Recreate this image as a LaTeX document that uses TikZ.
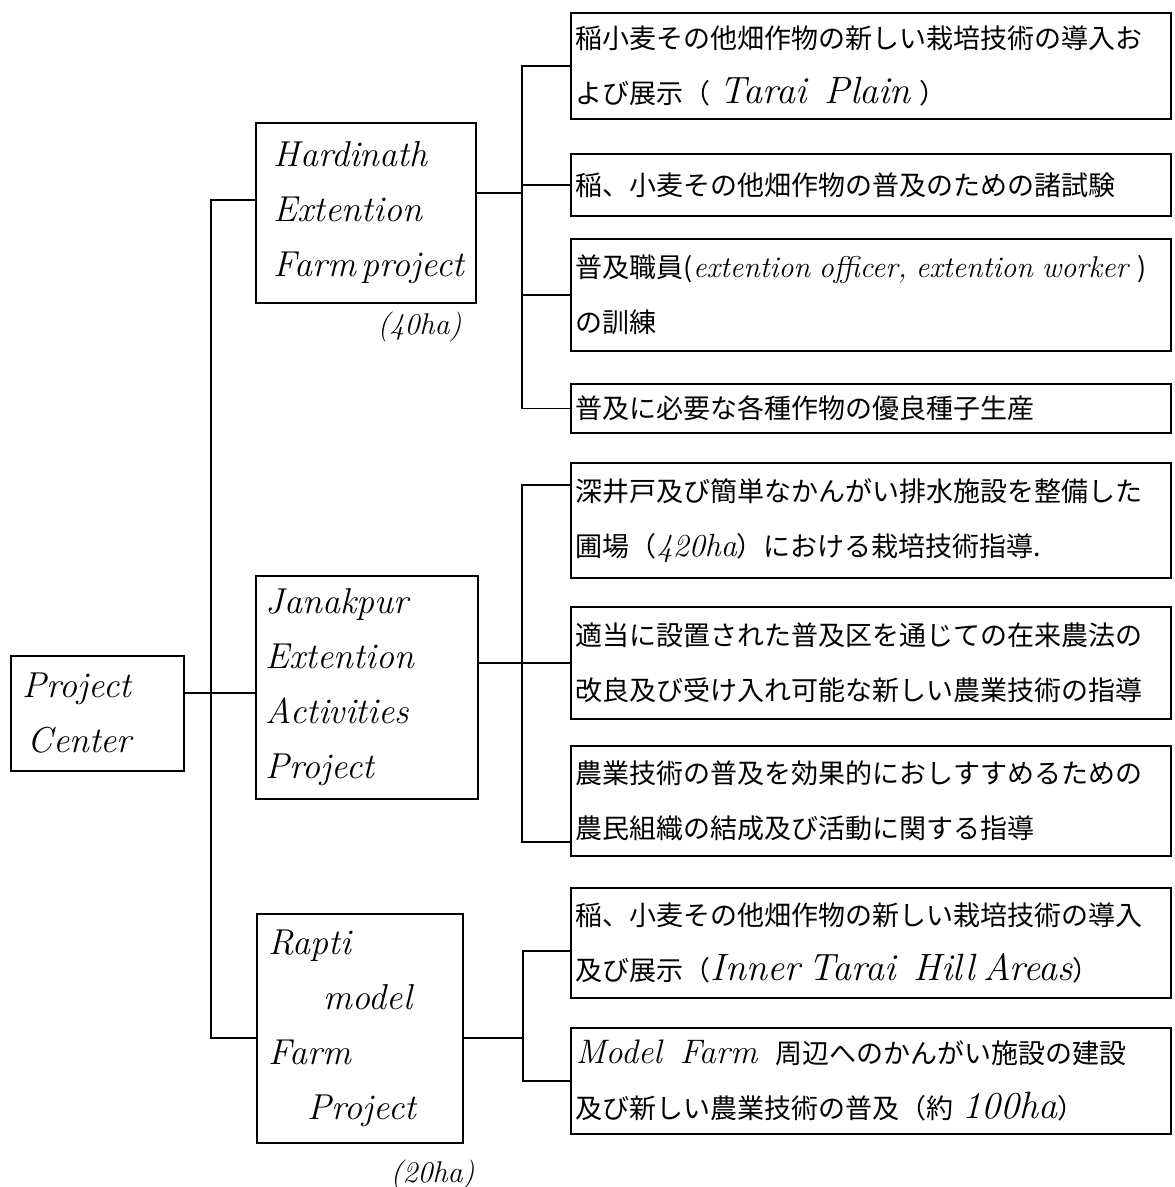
\documentclass[tikz,border=0pt]{standalone}
\usepackage{fontspec}
\newfontfamily\jpfont{Noto Sans CJK JP}
\usetikzlibrary{calc,positioning}
\newcommand{\mano}{\rmfamily\itshape}
\newcommand{\latin}[2][36]{{\mano\fontsize{#1}{55}\selectfont #2}}
\tikzset{
  proyecto/.style={
    draw,
    line width=1.8pt,
    anchor=north west,
    align=left,
    inner ysep=0pt,
    font=\mano\fontsize{36}{55}\selectfont
  },
  tarea/.style={
    draw,
    line width=1.8pt,
    anchor=north west,
    align=left,
    text width=590pt,
    inner xsep=5pt,
    inner ysep=0pt,
    font=\jpfont\fontsize{27}{55}\selectfont
  },
  etiqueta/.style={
    inner sep=0pt,
    font=\mano\fontsize{30}{30}\selectfont
  },
  enlace/.style={
    line width=1.8pt
  }
}

\begin{document}
\begin{tikzpicture}[x=1pt,y=-1pt]
\useasboundingbox (0,0) rectangle (1175,1187);
% proyectos
\node[proyecto,text width=149pt,inner xsep=12pt,minimum height=115pt] (pc) at (10,655) {Project\\\hspace*{5pt}Center};
\node[proyecto,text width=184pt,inner xsep=18pt,minimum height=180pt] (hard) at (255,122) {Hardinath\\Extention\\Farm\,project};
\node[proyecto,text width=202pt,inner xsep=10pt,minimum height=223pt] (jan) at (255,575) {Janakpur\\Extention\\Activities\\Project};
\node[proyecto,text width=182pt,inner xsep=12pt,minimum height=229pt] (rapti) at (256,913) {Rapti\\\hspace*{55pt}model\\Farm\\\hspace*{39pt}Project};
\node[etiqueta,below left=8pt and 15pt of hard.south east] (ha40) {(40ha)};
\node[etiqueta,below left=16pt and -11pt of rapti.south east] (ha20) {(20ha)};
% actividades Hardinath
\node[tarea,minimum height=106pt] (h1) at (570,12) {稲小麦その他畑作物の新しい栽培技術の導入お\\よび展示（ \latin[38]{Tarai\ \ Plain} ）};
\node[tarea,minimum height=62pt] (h2) at (570,153) {稲、小麦その他畑作物の普及のための諸試験};
\node[tarea,minimum height=112pt] (h3) at (570,238) {普及職員(\latin[30]{extention officer, extention worker} )\\の訓練};
\node[tarea,minimum height=49pt] (h4) at (570,383) {普及に必要な各種作物の優良種子生産};
% actividades Janakpur
\node[tarea,minimum height=115pt] (j1) at (570,462) {深井戸及び簡単なかんがい排水施設を整備した\\圃場（\latin[32]{420ha}）における栽培技術指導.};
\node[tarea,minimum height=112pt] (j2) at (570,606) {適当に設置された普及区を通じての在来農法の\\改良及び受け入れ可能な新しい農業技術の指導};
\node[tarea,minimum height=110pt] (j3) at (570,745) {農業技術の普及を効果的におしすすめるための\\農民組織の結成及び活動に関する指導};
% actividades Rapti
\node[tarea,minimum height=110pt] (r1) at (570,887) {稲、小麦その他畑作物の新しい栽培技術の導入\\及び展示（\latin[38]{Inner Tarai\ \ Hill Areas}）};
\node[tarea,minimum height=106pt] (r2) at (570,1027) {\latin[34]{Model\ \ Farm}\ \ 周辺へのかんがい施設の建設\\及び新しい農業技術の普及（約 \latin[38]{100ha}）};
% eje principal
\coordinate (ejeA) at (211,200);
\coordinate (ejeB) at (211,1038);
\coordinate (ejeC) at (211,693);
\draw[enlace] (hard.west |- ejeA) -- (ejeA) -- (ejeB) -- (rapti.west |- ejeB);
\draw[enlace] (pc.east |- ejeC) -- (jan.west |- ejeC);
% ramas
\coordinate (hsub) at (522,193);
\draw[enlace] (hard.east |- hsub) -- (hsub);
\draw[enlace] (h1.west) -| (hsub) |- (h4.west);
\draw[enlace] (h2.west) -- (h2.west -| hsub);
\draw[enlace] (h3.west) -- (h3.west -| hsub);
\coordinate (jsub) at (522,662);
\draw[enlace] (jan.east |- j2.west) -- (j2.west);
\draw[enlace] ($(j1.north west)+(0,23)$) -| (jsub) |- ($(j3.south west)+(0,-15)$);
\coordinate (rsub) at (523,1038);
\draw[enlace] (rapti.east |- rsub) -- (rsub);
\draw[enlace] ($(r1.west)+(0,8)$) -| (rsub) |- (r2.west);
\end{tikzpicture}
\end{document}
